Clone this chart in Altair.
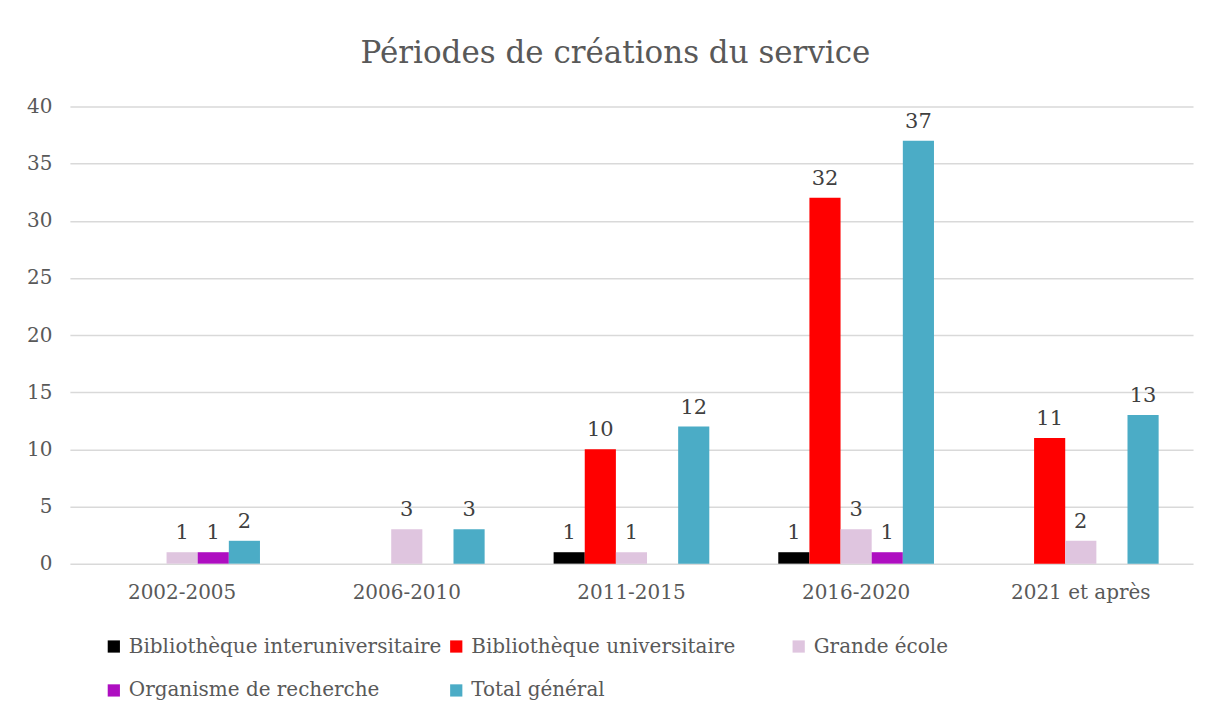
import altair as alt
import pandas as pd

periods = ["2002-2005", "2006-2010", "2011-2015", "2016-2020", "2021 et après"]
series = ["Bibliothèque interuniversitaire", "Bibliothèque universitaire",
          "Grande école", "Organisme de recherche", "Total général"]
colors = ["#000000", "#FF0000", "#DFC5DF", "#AE0EC1", "#4BACC6"]

bib_inter = [0, 0, 1, 1, 0]
bib_univ = [0, 0, 10, 32, 11]
grande_ecole = [1, 3, 1, 3, 2]
organisme = [1, 0, 0, 1, 0]
total = [2, 3, 12, 37, 13]

values = [bib_inter, bib_univ, grande_ecole, organisme, total]
rows = []
for s, vals in zip(series, values):
    for p, v in zip(periods, vals):
        rows.append({"period": p, "series": s, "value": v})
df = pd.DataFrame(rows)

FONT = "DejaVu Serif"

x = alt.X("period:N", sort=periods, title=None,
          scale=alt.Scale(paddingInner=0.307, paddingOuter=0.153),
          axis=alt.Axis(labelAngle=0, ticks=False, domain=False, labelPadding=19,
                        labelFontSize=20, labelColor="#595959", labelFont=FONT))
xo = alt.XOffset("series:N", sort=series, scale=alt.Scale(paddingInner=0, paddingOuter=0))

bars = alt.Chart(df).mark_bar().encode(
    x=x,
    xOffset=xo,
    y=alt.Y("value:Q", title=None,
            scale=alt.Scale(domain=[0, 40]),
            axis=alt.Axis(values=list(range(0, 41, 5)), ticks=False, domain=False,
                          labelPadding=18, labelFontSize=20, labelColor="#595959",
                          labelFont=FONT, gridColor="#D9D9D9", gridWidth=1.5)),
    color=alt.Color("series:N", sort=series,
                    scale=alt.Scale(domain=series, range=colors),
                    legend=alt.Legend(title=None, orient="none", legendX=34, legendY=531,
                                      direction="horizontal", columns=3, gridAlign="all",
                                      symbolType="square", symbolSize=150, symbolStrokeWidth=0,
                                      labelFontSize=20, labelFont=FONT, labelColor="#595959",
                                      labelOffset=5, columnPadding=4, rowPadding=24,
                                      labelLimit=400)),
)

labels = alt.Chart(df).transform_filter("datum.value > 0").mark_text(
    baseline="bottom", dy=-9, fontSize=21, font=FONT, color="#404040"
).encode(
    x=x, xOffset=xo, y="value:Q", text="value:Q"
)

chart = (bars + labels).properties(
    width=1125, height=458,
    background="white",
    title=alt.Title("Périodes de créations du service", fontSize=31, font=FONT,
                    fontWeight="normal", color="#595959", offset=26, dx=-16),
    autosize=alt.AutoSizeParams(type="none"),
    padding={"left": 62, "top": 98, "right": 10, "bottom": 140},
).configure_view(stroke=None, strokeWidth=0)

chart.save("out.html", embed_options={"renderer": "svg", "actions": False})
